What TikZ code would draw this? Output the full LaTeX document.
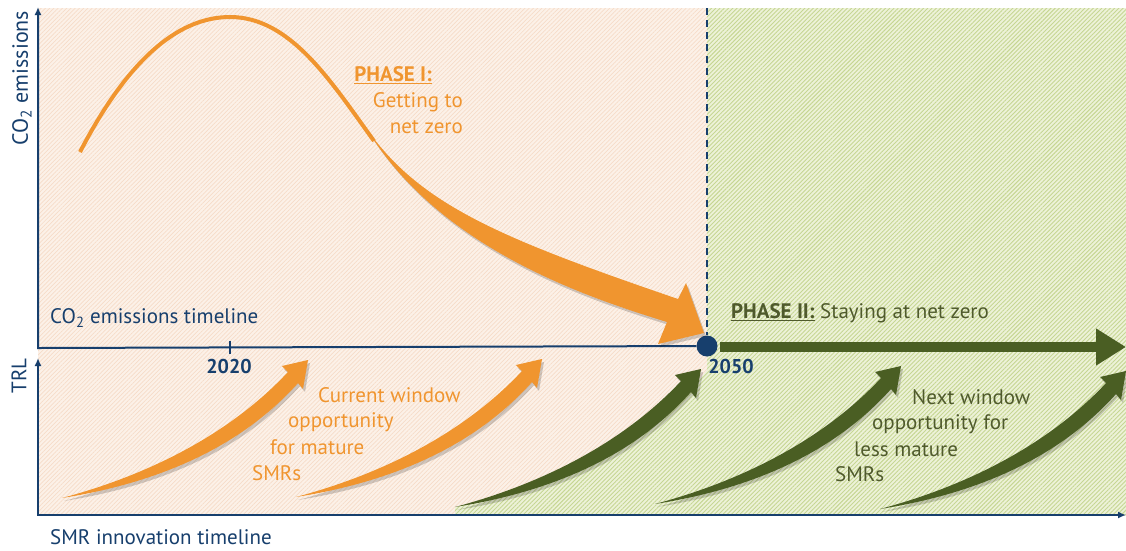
\documentclass[tikz,border=0pt]{standalone}
\usepackage{fontspec}
\setmainfont{PT Sans}
\usetikzlibrary{arrows.meta,patterns.meta}
\definecolor{navy}{HTML}{173F6D}
\definecolor{orng}{HTML}{F0952F}
\definecolor{olive}{HTML}{4A5E23}
\definecolor{olivetext}{HTML}{4F5A2C}
\definecolor{peach}{HTML}{FCF1E8}
\definecolor{peachline}{HTML}{F6DCC8}
\definecolor{lgreen}{HTML}{EDF2D8}
\definecolor{lgreenline}{HTML}{C6D693}
\newcommand\trlarrow[3]{%
  \fill[#3, shadowed, shift={(#1,#2)}] (0,0) .. controls (90,-24) and (170,-66) .. (226,-126)
    -- (220,-132) -- (246,-138) -- (241,-109) -- (236,-115)
    .. controls (178,-50) and (95,-15) .. (0,0) -- cycle;}
\begin{document}
\begin{tikzpicture}[x=1pt,y=-1pt,
  lbl/.style={font=\fontsize{21}{25}\selectfont, inner sep=0pt},
  yr/.style={font=\fontsize{20}{24}\selectfont\bfseries, text=navy, inner sep=0pt},
  axis/.style={navy, line width=2pt},
  shadowed/.style={preaction={fill=black, opacity=0.18, transform canvas={shift={(2pt,-3pt)}}}},
  hatchO/.style={pattern={Lines[angle=45,distance=3pt,line width=0.7pt]}, pattern color=peachline},
  hatchG/.style={pattern={Lines[angle=45,distance=3pt,line width=0.9pt]}, pattern color=lgreenline},
]
\useasboundingbox (0,0) rectangle (1126,550);
\fill[white] (0,0) rectangle (1126,550);
% backgrounds
\fill[peach] (38,8) rectangle (1126,515);
\fill[hatchO] (38,8) rectangle (1126,515);
\fill[lgreen] (707,8) -- (1126,8) -- (1126,515) -- (455,515) -- (455,507)
   .. controls (550,492) and (633,457) .. (691,392) -- (707,370) -- cycle;
\fill[hatchG] (707,8) -- (1126,8) -- (1126,515) -- (455,515) -- (455,507)
   .. controls (550,492) and (633,457) .. (691,392) -- (707,370) -- cycle;

% dot and dashed line
\node[circle, fill=navy, minimum size=21pt, inner sep=0pt] (d2050) at (707,346) {};
\coordinate (dtop) at (707,8);
\draw[navy, line width=1.8pt, dash pattern=on 7pt off 5pt] (dtop) -- (d2050);

% axes
\draw[axis, {Latex[length=8pt,width=7pt]}-] (38,7) -- (38,348) -- (d2050);
\draw[axis] (230,341) -- (230,354);
\draw[axis, {Latex[length=8pt,width=7pt]}-{Latex[length=8pt,width=7pt]}] (38,358) -- (38,515) -- (1126,515);

% emissions curve
\draw[orng, line width=4pt] (80,152) .. controls (125,65) and (175,17) .. (230,17)
   .. controls (290,17) and (330,80) .. (374,141);
\fill[orng, shadowed] (366,128) .. controls (420,205) and (500,238) .. (678,299)
   -- (686,283) -- (704,333) -- (658,344) -- (667,322)
   .. controls (590,298) and (440,250) .. (366,128) -- cycle;

% phase II arrow
\coordinate (gstart) at (720,347);
\coordinate (gend) at (1126,347);
\draw[olive, line width=10pt, -{Triangle[length=30pt,width=35pt]}] (gstart) -- (gend);

% TRL arrows
\trlarrow{62}{498}{orng}
\trlarrow{296}{497}{orng}
\trlarrow{455}{507}{olive}
\trlarrow{655}{504}{olive}
\trlarrow{880}{509}{olive}

% labels
\node[lbl, text=navy, rotate=90] (yl1) at (22,78) {\fontsize{22}{26}\selectfont CO\textsubscript{2} emissions};
\node[lbl, text=navy, rotate=90] (yl2) at (19,376) {TRL};
\node[lbl, text=navy, anchor=west] (tl1) at (50,318) {CO\textsubscript{2} emissions timeline};
\node[yr] (y2020) at (229,366) {2020};
\node[yr] (y2050) at (731,366) {2050};
\node[lbl, anchor=east, text=orng, font=\fontsize{21}{25}\selectfont\bfseries] (p1) at (432,75) {\underline{PHASE I:}};
\node[lbl, anchor=east, text=orng] (p1a) at (463,102) {Getting to};
\node[lbl, anchor=east, text=orng] (p1b) at (463,127) {net zero};
\node[lbl, anchor=west, text=olivetext] (p2) at (731,313) {\textbf{\underline{PHASE II:}} Staying at net zero};
\node[lbl, anchor=west, text=orng] (c1) at (318,395) {Current window};
\node[lbl, anchor=west, text=orng] (c2) at (288,422) {opportunity};
\node[lbl, anchor=west, text=orng] (c3) at (270,447) {for mature};
\node[lbl, anchor=west, text=orng] (c4) at (252,473) {SMRs};
\node[lbl, anchor=west, text=olivetext] (n1) at (912,397) {Next window};
\node[lbl, anchor=west, text=olivetext] (n2) at (872,424) {opportunity for};
\node[lbl, anchor=west, text=olivetext] (n3) at (854,449) {less mature};
\node[lbl, anchor=west, text=olivetext] (n4) at (835,474) {SMRs};
\node[lbl, anchor=west, text=navy] (bl) at (50,537) {SMR innovation timeline};
\end{tikzpicture}
\end{document}
